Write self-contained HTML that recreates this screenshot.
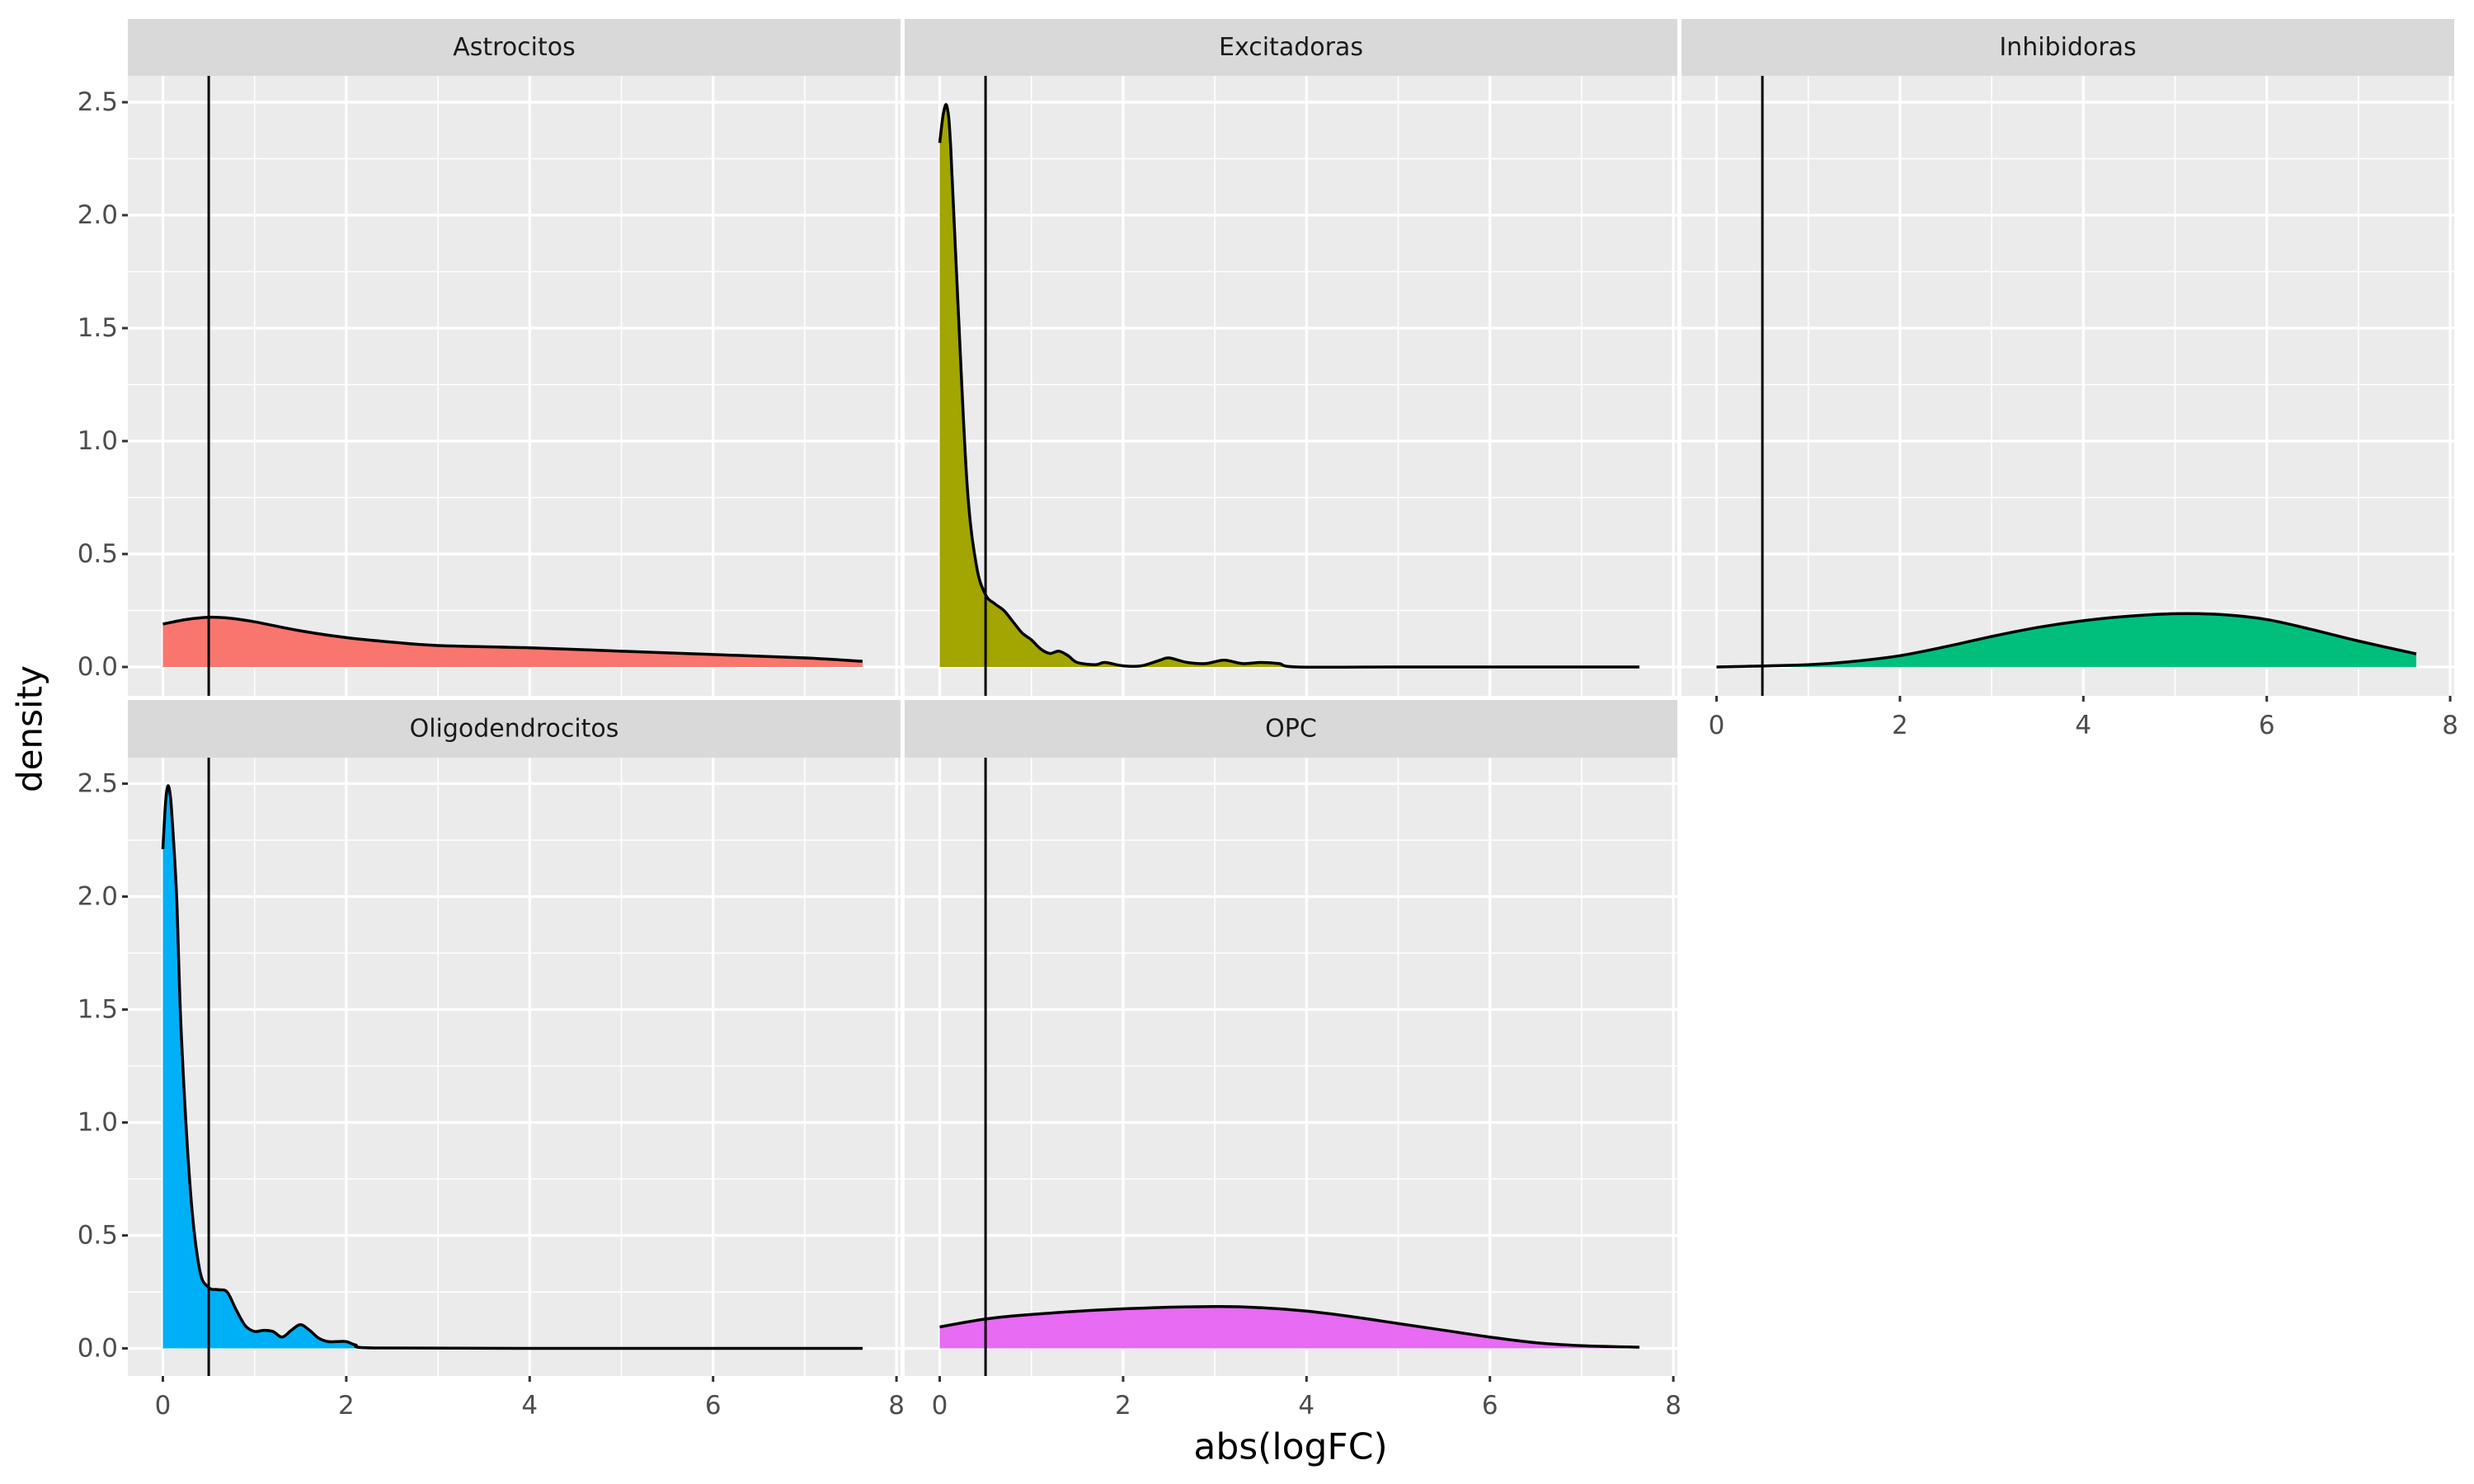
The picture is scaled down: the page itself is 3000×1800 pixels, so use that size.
<!DOCTYPE html>
<html><head><meta charset="utf-8">
<style>
html,body{margin:0;padding:0;background:#fff;}
svg{display:block;font-family:"DejaVu Sans","Liberation Sans",sans-serif;}
</style></head>
<body>
<svg id="chart" width="3000" height="1800" viewBox="0 0 3000 1800" xmlns="http://www.w3.org/2000/svg">
<rect width="3000" height="1800" fill="#fff"/>
<text x="36" y="884" transform="rotate(-90 36 884)" text-anchor="middle" dominant-baseline="central" font-size="42" fill="#000">density</text>
<text x="1565" y="1755" text-anchor="middle" dominant-baseline="central" font-size="44" fill="#000">abs(logFC)</text>
</svg>
<script>
const panelNames = ["Astrocitos","Excitadoras","Inhibidoras","Oligodendrocitos","OPC"];
const panelColors = ["#F8766D","#A3A500","#00BF7D","#00B0F6","#E76BF3"];
const xTicks = [0,2,4,6,8];
const xMinor = [1,3,5,7];
const yTicks = [0,0.5,1,1.5,2,2.5];
const yTickLabels = ["0.0","0.5","1.0","1.5","2.0","2.5"];
const yMinor = [0.25,0.75,1.25,1.75,2.25];
const threshold = 0.5;
const astroX = [0,0.25,0.5,0.75,1,1.5,2,2.5,3,4,5,6,7,7.63];
const astroY = [0.19,0.21,0.22,0.215,0.2,0.16,0.13,0.11,0.095,0.085,0.07,0.055,0.04,0.025];
const excX = [0,0.04,0.08,0.12,0.2,0.3,0.4,0.5,0.6,0.7,0.8,0.9,1.0,1.1,1.2,1.3,1.4,1.5,1.7,1.8,2.0,2.2,2.4,2.5,2.7,2.9,3.1,3.3,3.5,3.7,3.9,5,7.63];
const excY = [2.32,2.45,2.48,2.3,1.6,0.8,0.45,0.32,0.28,0.25,0.2,0.15,0.12,0.08,0.06,0.07,0.05,0.02,0.01,0.02,0.005,0.005,0.03,0.04,0.02,0.015,0.03,0.015,0.02,0.015,0.0,0,0];
const inhX = [0,1,1.5,2,2.5,3,3.5,4,4.5,5,5.5,6,6.5,7,7.63];
const inhY = [0,0.01,0.025,0.05,0.09,0.135,0.175,0.205,0.225,0.236,0.232,0.21,0.165,0.115,0.058];
const oliX = [0,0.03,0.055,0.08,0.1,0.15,0.2,0.3,0.4,0.5,0.6,0.7,0.8,0.9,1.0,1.1,1.2,1.3,1.4,1.5,1.6,1.7,1.8,1.9,2.0,2.1,2.3,4,7.63];
const oliY = [2.21,2.42,2.49,2.45,2.35,2.0,1.4,0.7,0.35,0.27,0.26,0.25,0.17,0.1,0.075,0.08,0.075,0.05,0.08,0.105,0.08,0.045,0.03,0.03,0.03,0.015,0.002,0,0];
const opcX = [0,0.5,1,2,3,3.5,4,4.5,5,5.5,6,6.5,7,7.63];
const opcY = [0.095,0.13,0.15,0.175,0.185,0.18,0.165,0.14,0.11,0.08,0.05,0.025,0.012,0.005];
const seriesX = [astroX,excX,inhX,oliX,opcX];
const seriesY = [astroY,excY,inhY,oliY,opcY];

const NS="http://www.w3.org/2000/svg";
const svg=document.getElementById('chart');
function mk(tag,attrs,parent){const e=document.createElementNS(NS,tag);for(const k in attrs)e.setAttribute(k,attrs[k]);(parent||svg).appendChild(e);return e;}
const colLeft=[155,1097,2039], pW=937;
const rows=[{stripTop:23,top:92,bottom:844,y0:809},{stripTop:849,top:919,bottom:1669,y0:1635.5}];
const PX_PER_X=111.2, PX_PER_Y=274, X0OFF=42.5;
function smoothPath(pts){let d="M"+pts[0][0]+","+pts[0][1];for(let i=0;i<pts.length-1;i++){const p0=pts[Math.max(0,i-1)],p1=pts[i],p2=pts[i+1],p3=pts[Math.min(pts.length-1,i+2)];const c1=[p1[0]+(p2[0]-p0[0])/6,p1[1]+(p2[1]-p0[1])/6];const c2=[p2[0]-(p3[0]-p1[0])/6,p2[1]-(p3[1]-p1[1])/6];d+=" C"+c1[0]+","+c1[1]+" "+c2[0]+","+c2[1]+" "+p2[0]+","+p2[1];}return d;}

panelNames.forEach((name,i)=>{
  const r=i<3?0:1, c=i<3?i:i-3;
  const R=rows[r], L=colLeft[c];
  const xs=v=>L+X0OFF+v*PX_PER_X, ys=v=>R.y0-v*PX_PER_Y;
  const g=mk('g',{});
  
  
  const bg=mk('rect',{x:L,y:R.top,width:pW,height:R.bottom-R.top,fill:'#EBEBEB'},g);
  
  
  yMinor.forEach(v=>mk('line',{x1:L,x2:L+pW,y1:ys(v),y2:ys(v),stroke:'#fff','stroke-width':1.6},g));
  xMinor.forEach(v=>mk('line',{x1:xs(v),x2:xs(v),y1:R.top,y2:R.bottom,stroke:'#fff','stroke-width':1.6},g));
  yTicks.forEach(v=>mk('line',{x1:L,x2:L+pW,y1:ys(v),y2:ys(v),stroke:'#fff','stroke-width':3.2},g));
  xTicks.forEach(v=>mk('line',{x1:xs(v),x2:xs(v),y1:R.top,y2:R.bottom,stroke:'#fff','stroke-width':3.2},g));
  const sx=seriesX[i], sy=seriesY[i];
  const pts=sx.map((v,k)=>[xs(v),ys(sy[k])]);
  const line=smoothPath(pts);
  const area=mk('path',{d:line+" L"+xs(sx[sx.length-1])+","+ys(0)+" L"+xs(sx[0])+","+ys(0)+" Z",fill:panelColors[i],stroke:'none'},g);
  
  
  const ln=mk('path',{d:line,fill:'none',stroke:'#000','stroke-width':3.5},g);
  
  
  const vl=mk('line',{x1:xs(threshold),x2:xs(threshold),y1:R.top,y2:R.bottom,stroke:'#000','stroke-width':3},g);
  
  
  const st=mk('rect',{x:L,y:R.stripTop,width:pW,height:R.top-R.stripTop,fill:'#D9D9D9'},g);
  
  
  const tt=mk('text',{x:L+pW/2,y:(R.stripTop+R.top)/2,'text-anchor':'middle','dominant-baseline':'central','font-size':30,fill:'#1A1A1A'},g);
  tt.textContent=name;
  
  
  if(c===0){
    yTicks.forEach((v,k)=>{
      mk('line',{x1:L-7,x2:L,y1:ys(v),y2:ys(v),stroke:'#333','stroke-width':3},g);
      const t=mk('text',{x:L-12,y:ys(v),'text-anchor':'end','dominant-baseline':'central','font-size':31,fill:'#4D4D4D'},g);
      t.textContent=yTickLabels[k];
      
      
    });
  }
  if(r===1||c===2){
    xTicks.forEach(v=>{
      mk('line',{x1:xs(v),x2:xs(v),y1:R.bottom,y2:R.bottom+7,stroke:'#333','stroke-width':3},g);
      const t=mk('text',{x:xs(v),y:R.bottom+36,'text-anchor':'middle','dominant-baseline':'central','font-size':31,fill:'#4D4D4D'},g);
      t.textContent=String(v);
      
      
    });
  }
});
</script>
</body></html>
